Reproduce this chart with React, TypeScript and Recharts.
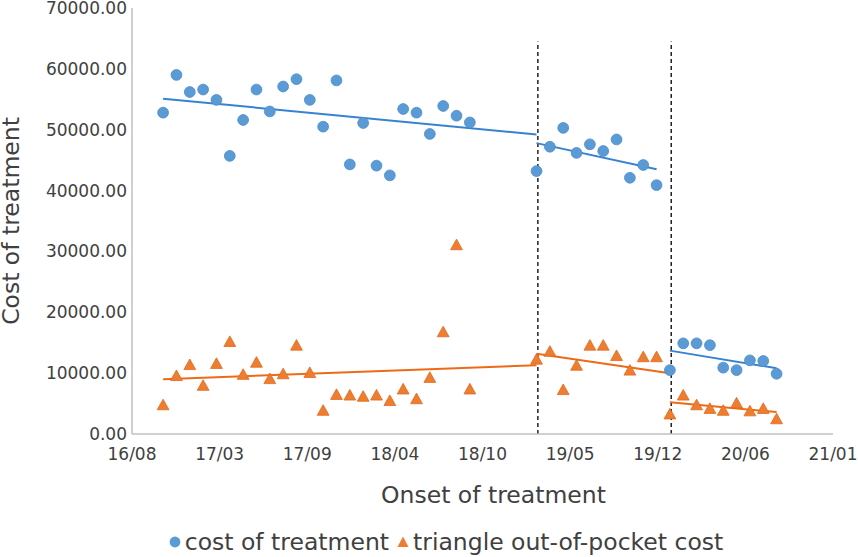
import {
  Label,
  Legend,
  ReferenceLine,
  Scatter,
  ScatterChart,
  XAxis,
  YAxis,
} from "recharts";

// months with a recorded value (YYYY-MM), points sit near the 11th of each month
const MONTHS = [
  "2016-10", "2016-11", "2016-12",
  "2017-01", "2017-02", "2017-03", "2017-04", "2017-05", "2017-06",
  "2017-07", "2017-08", "2017-09", "2017-10", "2017-11", "2017-12",
  "2018-01", "2018-02", "2018-03", "2018-04", "2018-05", "2018-06",
  "2018-07", "2018-08", "2018-09",
  "2019-02", "2019-03", "2019-04", "2019-05", "2019-06", "2019-07",
  "2019-08", "2019-09", "2019-10", "2019-11",
  "2019-12", "2020-01", "2020-02", "2020-03", "2020-04", "2020-05",
  "2020-06", "2020-07", "2020-08",
];

const COST = [
  52800, 59000, 56200,
  56600, 54900, 45700, 51600, 56600, 53000,
  57100, 58300, 54900, 50500, 58100, 44300,
  51100, 44100, 42500, 53400, 52800, 49300,
  53900, 52300, 51200,
  43200, 47200, 50300, 46200, 47600, 46500,
  48400, 42100, 44200, 40900,
  10500, 14900, 14900, 14600, 10900, 10500,
  12100, 12000, 9900,
];

const OUT_OF_POCKET = [
  4800, 9600, 11400,
  8000, 11600, 15200, 9800, 11800, 9100,
  9900, 14600, 10100, 3900, 6500, 6400,
  6200, 6400, 5500, 7400, 5800, 9300,
  16800, 31100, 7400,
  12300, 13600, 7300, 11300, 14600, 14600,
  12900, 10500, 12700, 12700,
  3300, 6400, 4800, 4200, 3900, 5100,
  3800, 4200, 2500,
];

// trend line end points: [fromMonth, toMonth, fromValue, toValue]
const COST_TRENDS: [string, string, number, number][] = [
  ["2016-10", "2019-02", 55100, 49200],
  ["2019-02", "2019-11", 47800, 43500],
  ["2019-12", "2020-08", 13700, 10800],
];
const OOP_TRENDS: [string, string, number, number][] = [
  ["2016-10", "2019-02", 9000, 11300],
  ["2019-02", "2019-12", 13200, 10000],
  ["2019-12", "2020-08", 5200, 3600],
];

const BREAKS = ["2019-02-14", "2019-12-14"];
const BREAK_TOP = 64500;

const X_TICKS = ["16/08", "17/03", "17/09", "18/04", "18/10", "19/05", "19/12", "20/06", "21/01"];
const Y_TICKS = [0, 10000, 20000, 30000, 40000, 50000, 60000, 70000];

// the date axis steps by 200 days, expressed in months
const TICK_STEP = 200 / 30.44;
const BLUE = "#5b9bd5";
const ORANGE = "#ed7d31";
const TEXT = "#404040";

function toX(date: string): number {
  const [y, m, d] = date.split("-").map(Number);
  return (y - 2016) * 12 + (m - 8) + ((d ?? 11) - 1) / 30;
}

const costData = MONTHS.map((month, i) => ({ x: toX(month), y: COST[i] }));
const oopData = MONTHS.map((month, i) => ({ x: toX(month), y: OUT_OF_POCKET[i] }));

function Dot(props: any) {
  return <circle cx={props.cx} cy={props.cy} r={5.4} fill={BLUE} stroke="#4a8bcb" strokeWidth={0.8} />;
}

function Tri(props: any) {
  const { cx, cy } = props;
  return (
    <path
      d={`M${cx},${cy - 5.6} L${cx + 5.9},${cy + 5} L${cx - 5.9},${cy + 5} Z`}
      fill={ORANGE}
      stroke="#e2681c"
      strokeWidth={0.8}
    />
  );
}

function LegendContent() {
  return (
    <div
      style={{
        height: 44,
        boxSizing: "border-box",
        paddingTop: 14,
        paddingLeft: 58,
        display: "flex",
        justifyContent: "center",
        alignItems: "center",
        fontSize: 23.5,
        lineHeight: "30px",
        color: TEXT,
        whiteSpace: "nowrap",
      }}
    >
      <svg width={14} height={14} style={{ marginRight: 3 }}>
        <circle cx={7} cy={7} r={5.4} fill={BLUE} />
      </svg>
      <span>cost of treatment</span>
      <svg width={16} height={14} style={{ marginLeft: 6, marginRight: 2 }}>
        <path d="M8,1.5 L13.5,12 L2.5,12 Z" fill={ORANGE} />
      </svg>
      <span>triangle out-of-pocket cost</span>
    </div>
  );
}

export default function App() {
  const tickStyle = { fill: TEXT, fontSize: 17 };
  return (
    <div style={{ position: "absolute", left: 0, top: 0, fontFamily: "DejaVu Sans", background: "#fff" }}>
      <ScatterChart width={858} height={557} margin={{ top: 8, right: 25, bottom: 0, left: 0 }}>
        <XAxis
          type="number"
          dataKey="x"
          domain={[0, 8 * TICK_STEP]}
          ticks={X_TICKS.map((_, i) => i * TICK_STEP)}
          tickFormatter={(_, i) => X_TICKS[i]}
          interval={0}
          height={79}
          tick={tickStyle}
          tickLine={false}
          tickSize={0}
          tickMargin={14}
          axisLine={{ stroke: "#c0c0c0", strokeWidth: 1.5 }}
        >
          <Label
            value="Onset of treatment"
            position="insideBottom"
            offset={10}
            dx={11}
            style={{ fill: TEXT, fontSize: 23.5 }}
          />
        </XAxis>
        <YAxis
          type="number"
          dataKey="y"
          domain={[0, 70000]}
          ticks={Y_TICKS}
          tickFormatter={(v: number) => v.toFixed(2)}
          interval={0}
          width={132}
          tick={tickStyle}
          tickLine={false}
          tickSize={0}
          tickMargin={5}
          axisLine={{ stroke: "#c0c0c0", strokeWidth: 1.5 }}
        >
          <Label
            value="Cost of treatment"
            angle={-90}
            position="insideLeft"
            offset={11}
            style={{ fill: TEXT, fontSize: 23.5, textAnchor: "middle" }}
          />
        </YAxis>
        {BREAKS.map((d) => (
          <ReferenceLine
            key={d}
            segment={[{ x: toX(d), y: 0 }, { x: toX(d), y: BREAK_TOP }]}
            stroke="#222"
            strokeWidth={1.5}
            strokeDasharray="4 3"
          />
        ))}
        <Scatter name="cost of treatment" data={costData} shape={Dot} isAnimationActive={false} />
        <Scatter name="triangle out-of-pocket cost" data={oopData} shape={Tri} isAnimationActive={false} />
        {COST_TRENDS.map(([a, b, v1, v2]) => (
          <ReferenceLine
            key={"c" + a}
            segment={[{ x: toX(a), y: v1 }, { x: toX(b), y: v2 }]}
            stroke="#3783d2"
            strokeWidth={2}
          />
        ))}
        {OOP_TRENDS.map(([a, b, v1, v2]) => (
          <ReferenceLine
            key={"o" + a}
            segment={[{ x: toX(a), y: v1 }, { x: toX(b), y: v2 }]}
            stroke="#ef6a16"
            strokeWidth={2}
          />
        ))}
        <Legend verticalAlign="bottom" content={LegendContent} />
      </ScatterChart>
    </div>
  );
}
